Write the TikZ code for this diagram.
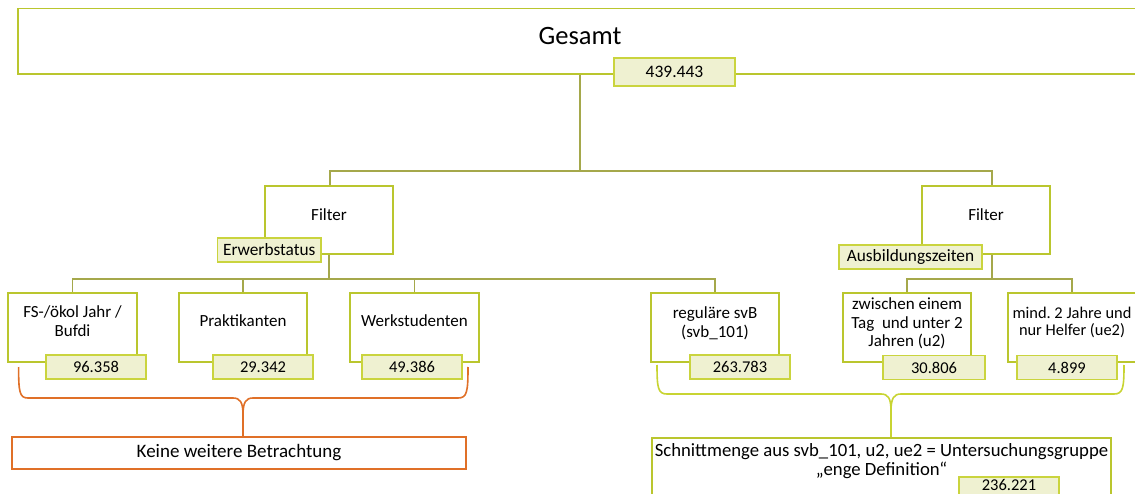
\documentclass[tikz,border=0pt]{standalone}
\usepackage{fontspec}
\setmainfont{Carlito}
\usetikzlibrary{calc}
\definecolor{boxc}{RGB}{186,198,46}
\definecolor{linec}{RGB}{165,168,75}
\definecolor{numfill}{RGB}{239,241,209}
\definecolor{numdraw}{RGB}{202,212,62}
\definecolor{orangec}{RGB}{224,112,40}
\definecolor{bracec}{RGB}{200,212,50}
\newcommand\liftbox[2][4pt]{\raisebox{#1}[\height][\depth]{\begin{tabular}{@{}c@{}}#2\end{tabular}}}
\frenchspacing
\begin{document}
\begin{tikzpicture}[x=1pt,y=-1pt,
  bigbox/.style={draw=boxc, line width=1.6pt, fill=white, inner sep=0pt, align=center,
    font=\fontsize{17}{18.7}\selectfont},
  numbox/.style={draw=numdraw, line width=1.3pt, fill=numfill, inner sep=0pt,
    minimum height=24pt, font=\fontsize{16.5}{19}\selectfont},
  conn/.style={draw=linec, line width=1.6pt},
  brace/.style={line width=1.6pt}]
\useasboundingbox (0,0) rectangle (1135,494);
\clip (0,0) rectangle (1135,494);
% nodes
\node[bigbox, minimum width=1124pt, minimum height=65.5pt] (top) at (580,41.25)
  {\liftbox[3pt]{\fontsize{26.5}{30}\selectfont Gesamt}};
\node[bigbox, minimum width=128pt, minimum height=68pt] (f1) at (329,220) {\liftbox[3pt]{Filter}};
\node[bigbox, minimum width=128pt, minimum height=68pt] (f2) at (986,220) {\liftbox[3pt]{Filter}};
\node[bigbox, minimum width=129pt, minimum height=69pt] (fs) at (72.5,327.5) {\liftbox[4.5pt]{FS-/ökol Jahr /\\Bufdi}};
\node[bigbox, minimum width=128pt, minimum height=69pt] (prakt) at (243,327.5) {\liftbox[5pt]{Praktikanten}};
\node[bigbox, minimum width=129pt, minimum height=69pt] (werk) at (414.5,327.5) {\liftbox[5pt]{Werkstudenten}};
\node[bigbox, minimum width=128pt, minimum height=69pt] (svb) at (715,327.5) {\liftbox[3.5pt]{reguläre svB\\(svb\_101)}};
\node[bigbox, minimum width=128pt, minimum height=69pt] (zw) at (907,327.5) {\liftbox[3pt]{zwischen einem\\Tag~ und unter 2\\Jahren (u2)}};
\node[bigbox, minimum width=128pt, minimum height=69pt, font=\fontsize{16.4}{17.5}\selectfont] (mind) at (1072,327.5) {\liftbox[4pt]{mind. 2 Jahre und\\nur Helfer (ue2)}};
\node[bigbox, draw=orangec, line width=1.4pt, minimum width=454pt, minimum height=32pt, font=\fontsize{19}{21}\selectfont] (keine) at (239,453) {Keine weitere Betrachtung};
\node[bigbox, minimum width=459pt, minimum height=58pt, font=\fontsize{18.7}{19}\selectfont] (schnitt) at (881.5,467)
  {\liftbox[4.5pt]{Schnittmenge aus svb\_101, u2, ue2 = Untersuchungsgruppe\\„enge Definition“}};
% number / label boxes
\node[numbox, minimum width=121pt, minimum height=28pt, font=\fontsize{17.5}{20}\selectfont] (n0) at (674.5,72) {439.443};
\node[numbox, minimum width=103.5pt, font=\fontsize{17.3}{19}\selectfont] (erw) at (269.25,250) {Erwerbstatus};
\node[numbox, minimum width=143pt, font=\fontsize{17.3}{19}\selectfont] (ausb) at (910.5,257) {Ausbildungszeiten};
\node[numbox, minimum width=100pt] (nfs) at (96,367) {96.358};
\node[numbox, minimum width=100pt] (nprakt) at (263,367) {29.342};
\node[numbox, minimum width=100pt] (nwerk) at (412,367) {49.386};
\node[numbox, minimum width=100pt] (nsvb) at (740,367) {263.783};
\node[numbox, minimum width=102pt] (nzw) at (934,367.5) {30.806};
\node[numbox, minimum width=100pt] (nmind) at (1067,367.5) {4.899};
\node[numbox, minimum width=100pt] (nschnitt) at (1009,489) {\liftbox[2.5pt]{236.221}};
% connectors
\draw[conn] (top.south) -- ++(0,96.5) coordinate (j0);
\draw[conn] (j0) -| ($(f1.north)+(1,0)$);
\draw[conn] (j0) -| ($(f2.north)+(6,0)$);
\draw[conn] (f1.south) -- ++(0,24) coordinate (j1);
\draw[conn] (j1) -| (fs.north);
\draw[conn] (j1) -| (prakt.north);
\draw[conn] (j1) -| (werk.north);
\draw[conn] (j1) -| (svb.north);
\draw[conn] ($(f2.south)+(6,0)$) -- ++(0,24) coordinate (j2);
\draw[conn] (j2) -| (zw.north);
\draw[conn] (j2) -| (mind.north);
% braces
\coordinate (oL) at (18.6,367);
\coordinate (oR) at (468,367);
\coordinate (oT) at ($(keine.north)+(4,0)$);
\draw[brace, draw=orangec] (oL) .. controls (18.6,392) and (19.5,398) .. (28,398) -- (233,398)
  .. controls (240,398) and (243,402) .. (243,415) -- (oT);
\draw[brace, draw=orangec] (oR) .. controls (468,392) and (467,398) .. (458,398) -- (253,398)
  .. controls (246,398) and (243,402) .. (243,415);
\coordinate (yL) at (657,365);
\coordinate (yR) at (1124,365);
\coordinate (yT) at ($(schnitt.north)+(9.5,0)$);
\draw[brace, draw=bracec] (yL) .. controls (657,388) and (658,394) .. (667,394) -- (881,394)
  .. controls (888,394) and (891,398) .. (891,411) -- (yT);
\draw[brace, draw=bracec] (yR) .. controls (1124,388) and (1123,394) .. (1114,394) -- (901,394)
  .. controls (894,394) and (891,398) .. (891,411);
\end{tikzpicture}
\end{document}
